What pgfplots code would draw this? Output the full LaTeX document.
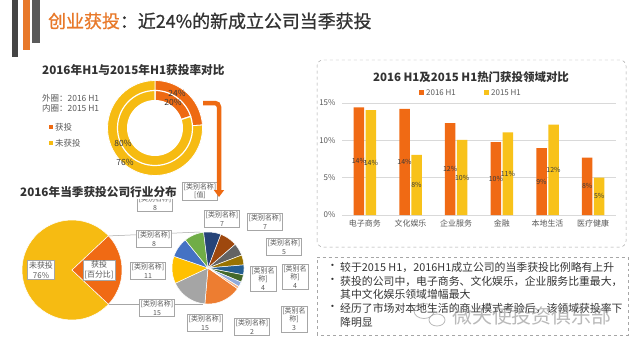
\documentclass[border=0pt]{standalone}
\usepackage{pgfplots}
\pgfplotsset{compat=1.18}
\usepackage{fontspec}
\setmainfont{Noto Sans CJK SC}
\newfontfamily\titlefont[FakeBold=0.8]{Noto Sans CJK SC}
\usetikzlibrary{arrows.meta}

\definecolor{barO}{HTML}{F06A14}
\definecolor{barY}{HTML}{F8C21A}
\definecolor{donO}{HTML}{EE6A12}
\definecolor{donY}{HTML}{F6BB12}
\definecolor{titleO}{HTML}{E8792A}
\definecolor{titleK}{HTML}{333333}
\definecolor{deco1}{HTML}{454545}
\definecolor{deco2}{HTML}{5A5A5A}
\definecolor{txtg}{HTML}{595959}
\definecolor{boxg}{HTML}{A6A6A6}
\definecolor{gridc}{HTML}{D9D9D9}
\definecolor{lblc}{HTML}{3A3A3A}
\definecolor{cOr}{HTML}{ED7D31}
\definecolor{cGr}{HTML}{A5A5A5}
\definecolor{cGd}{HTML}{FFC000}
\definecolor{cBl}{HTML}{4472C4}
\definecolor{cGn}{HTML}{70AD47}
\definecolor{cDb}{HTML}{264478}
\definecolor{cDo}{HTML}{9E480E}
\definecolor{cDg}{HTML}{636363}
\definecolor{cDy}{HTML}{997300}
\definecolor{cDb2}{HTML}{255E91}
\definecolor{cDn}{HTML}{43682B}
\definecolor{cLb}{HTML}{8FAADC}
\definecolor{cLo}{HTML}{F4B183}

\newcommand{\fsz}[2]{\fontsize{#1}{#2}\selectfont}
\newcommand{\pieslice}[5]{\addplot[fill=#1, draw=white, line width=#5, domain=#2:#3, samples=50] ({#4*cos(x)},{#4*sin(x)}) -- (axis cs:0,0) -- cycle;}

\begin{document}
\begin{tikzpicture}[x=1bp,y=1bp]
\useasboundingbox (0,0) rectangle (640,353);
\fill[white] (0,0) rectangle (640,353);

% decorative bars
\fill[deco1] (12,296) rectangle (18,353);
\fill[titleO] (23,303) rectangle (30,353);
\fill[deco2] (32,310) rectangle (40,353);

% main title
\node[anchor=west, inner sep=0] at (48,332) {\titlefont\fsz{18}{20}\color{titleO}创业获投\color{titleK}：近24\%的新成立公司当季获投};

% ---------- top-left donut ----------
\node[anchor=west, inner sep=0, font=\bfseries\fsz{11.7}{13}, text=titleK] at (42,283) {2016年H1与2015年H1获投率对比};
\node[anchor=west, inner sep=0, font=\fsz{8.5}{9}, text=txtg] at (42,255) {外圈：2016 H1};
\node[anchor=west, inner sep=0, font=\fsz{8.5}{9}, text=txtg] at (42,245) {内圈：2015 H1};
\fill[donO] (49,224) rectangle (53,228);
\node[anchor=west, inner sep=0, font=\fsz{8.5}{9}, text=txtg] at (55,226) {获投};
\fill[donY] (49,208) rectangle (53,212);
\node[anchor=west, inner sep=0, font=\fsz{8.5}{9}, text=txtg] at (55,210) {未获投};

\begin{axis}[at={(155bp,225bp)}, anchor=center, scale only axis, width=100bp, height=100bp,
  xmin=-50, xmax=50, ymin=-50, ymax=50, hide axis, clip=false]
% outer ring: 2016 H1 (24 / 76)
\pieslice{donO}{90}{3.6}{47.5}{0.8pt}
\pieslice{donY}{3.6}{-270}{47.5}{0.8pt}
% inner ring: 2015 H1 (20 / 80)
\pieslice{donO}{90}{18}{37.5}{1.2pt}
\pieslice{donY}{18}{-270}{37.5}{1.2pt}
\addplot[fill=white, draw=none, domain=0:360, samples=90] ({28*cos(x)},{28*sin(x)}) -- cycle;
\end{axis}
\node[font=\fsz{8.5}{9}, text=lblc] at (177,260) {24\%};
\node[font=\fsz{8.5}{9}, text=lblc] at (173,251) {20\%};
\node[font=\fsz{8.5}{9}, text=lblc] at (123,210) {80\%};
\node[font=\fsz{8.5}{9}, text=lblc] at (125,191) {76\%};

% ---------- bottom-left pie of pie ----------
\draw[boxg, line width=0.5pt] (107,117) -- (200,121);
\draw[boxg, line width=0.5pt] (107,49) -- (203,49);

\begin{axis}[at={(72bp,83bp)}, anchor=center, scale only axis, width=110bp, height=110bp,
  xmin=-55, xmax=55, ymin=-55, ymax=55, hide axis, clip=false]
\pieslice{donY}{43.2}{316.8}{50}{0.5pt}
\pieslice{barO}{-43.2}{43.2}{50}{0.5pt}
\end{axis}
\node[draw=boxg, fill=white, line width=0.3pt, inner sep=1.5bp, align=center, font=\fsz{8}{9.5}, text=txtg] at (41,83) {未获投\\76\%};
\node[draw=boxg, fill=white, line width=0.3pt, inner sep=1.5bp, align=center, font=\fsz{8}{9.5}, text=txtg] at (99,83) {获投\\{[}百分比{]}};

\begin{axis}[at={(208bp,85bp)}, anchor=center, scale only axis, width=80bp, height=80bp,
  xmin=-40, xmax=40, ymin=-40, ymax=40, hide axis, clip=false]
% values: 15,15,11,8,8,7,7,5,4,4,3,2,1  (4 degrees per unit)
\pieslice{cOr}{-35}{-95}{36}{0.5pt}
\pieslice{cGr}{-95}{-155}{36}{0.5pt}
\pieslice{cGd}{-155}{-199}{36}{0.5pt}
\pieslice{cBl}{-199}{-231}{36}{0.5pt}
\pieslice{cGn}{-231}{-263}{36}{0.5pt}
\pieslice{cDb}{-263}{-291}{36}{0.5pt}
\pieslice{cDo}{-291}{-319}{36}{0.5pt}
\pieslice{cDg}{-319}{-339}{36}{0.5pt}
\pieslice{cDy}{-339}{-355}{36}{0.5pt}
\pieslice{cDb2}{-355}{-371}{36}{0.5pt}
\pieslice{cDn}{-371}{-383}{36}{0.5pt}
\pieslice{cLb}{-383}{-391}{36}{0.5pt}
\pieslice{cLo}{-391}{-395}{36}{0.5pt}
\end{axis}

\tikzset{lab/.style={draw=boxg, fill=white, line width=0.3pt, inner sep=1.2bp, align=center, font=\fsz{7}{8.5}, text=txtg}}
\node[lab] at (155,150) {{[}类别名称{]}\\8};
\node[lab] at (154,114) {{[}类别名称{]}\\8};
\node[lab] at (148,82) {{[}类别名称{]}\\11};
\node[lab] at (157,45) {{[}类别名称{]}\\15};
\node[lab] at (205,30) {{[}类别名称{]}\\15};
\node[lab] at (252,26) {{[}类别名称{]}\\2};
\node[lab] at (294,34) {{[}类别名\\称{]}\\3};
\node[lab] at (263,74) {{[}类别名\\称{]}\\4};
\node[lab] at (295,76) {{[}类别名\\称{]}\\4};
\node[lab] at (284,106) {{[}类别名称{]}\\5};
\node[lab] at (265,131) {{[}类别名称{]}\\7};
\node[lab] at (222,134) {{[}类别名称{]}\\7};
\node[lab] at (200,162) {{[}类别名称{]}\\{[}值{]}};

\node[anchor=west, inner sep=1bp, fill=white, font=\bfseries\fsz{11.7}{13}, text=titleK] at (19,161) {2016年当季获投公司行业分布};

% orange arrow
\draw[donO, line width=4.5bp, rounded corners=4bp, -{Triangle[length=7bp,width=10bp]}] (203,250) -- (219,250) -- (219,156);

% ---------- bar chart ----------
\draw[boxg, dashed, line width=0.5pt, rounded corners=6bp] (317,106) rectangle (626,293);
\node[font=\bfseries\fsz{11.5}{13}, text=titleK] at (471,276) {2016 H1及2015 H1热门获投领域对比};
\fill[barO] (419,258) rectangle (424,263);
\node[anchor=west, inner sep=0, font=\fsz{8}{9}, text=txtg] at (426,260.5) {2016 H1};
\fill[barY] (484,258) rectangle (489,263);
\node[anchor=west, inner sep=0, font=\fsz{8}{9}, text=txtg] at (491,260.5) {2015 H1};

\begin{axis}[at={(342bp,138bp)}, anchor=south west, scale only axis,
  width=274bp, height=112bp,
  xmin=-0.5, xmax=5.5, ymin=0, ymax=15,
  xtick={0,...,5}, xticklabels={电子商务,文化娱乐,企业服务,金融,本地生活,医疗健康},
  ytick={0,5,10,15}, yticklabels={0\%,5\%,10\%,15\%},
  ymajorgrids, grid style={gridc, line width=0.6pt},
  axis line style={draw=none}, major tick length=0pt,
  tick label style={font=\fsz{8}{9}, text=txtg},
  xticklabel style={yshift=-1bp},
  yticklabel style={xshift=-3bp},
  ybar, bar width=10.5bp, clip=false,
  nodes near coords={\pgfmathprintnumber[fixed,precision=0,assume math mode=true]{\pgfplotspointmeta}\%},
  visualization depends on=y \as \rawy,
  every node near coord/.append style={anchor=center, font=\fsz{7}{8}, text=lblc, inner sep=0pt,
    shift={(axis direction cs:0,-\rawy/2)}},
]
\addplot[fill=barO, draw=none, bar shift=-6bp] coordinates {(0,14.4) (1,14.2) (2,12.3) (3,9.75) (4,8.95) (5,7.7)};
\addplot[fill=barY, draw=none, bar shift=6bp] coordinates {(0,14.05) (1,8.05) (2,10.05) (3,11.05) (4,12.1) (5,5.0)};
\end{axis}

% ---------- bullet box ----------
\draw[boxg, dashed, line width=0.5pt] (317,18) rectangle (628,96);
\tikzset{bl/.style={anchor=west, inner sep=0, font=\fsz{10.9}{12}, text=titleK}}
\node[bl] at (327,86) {•};
\node[bl] at (340,86) {较于2015 H1，2016H1成立公司的当季获投比例略有上升};
\node[bl] at (327,72) {•};
\node[bl] at (340,72) {获投的公司中，电子商务、文化娱乐，企业服务比重最大，};
\node[bl] at (340,59) {其中文化娱乐领域增幅最大};
\node[bl] at (327,45) {•};
\node[bl] at (340,45) {经历了市场对本地生活的商业模式考验后，该领域获投率下};
\node[bl] at (340,31) {降明显};

% watermark
\begin{scope}[opacity=0.55]
\draw[gray, line width=0.8pt] (424,42) ellipse (10 and 7.5);
\draw[gray, line width=0.8pt, fill=white] (437,33) ellipse (8 and 6);
\node[anchor=west, inner sep=0, font=\fsz{20}{22}, text=gray] at (452,37) {微天使投资俱乐部};
\end{scope}
\end{tikzpicture}
\end{document}
